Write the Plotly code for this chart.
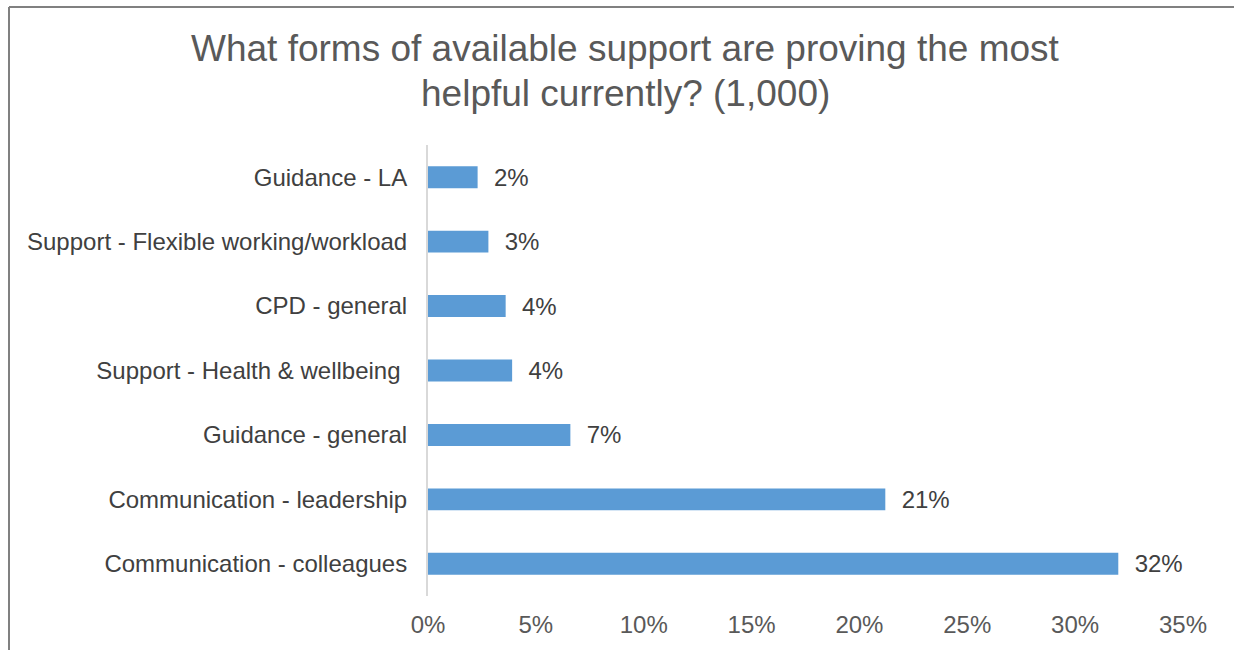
import plotly.graph_objects as go

# Survey responses, listed bottom-to-top as they appear on the y axis
categories = [
    "Communication - colleagues",
    "Communication - leadership",
    "Guidance - general",
    "Support - Health & wellbeing ",
    "CPD - general",
    "Support - Flexible working/workload",
    "Guidance - LA",
]
shares = [32.0, 21.2, 6.6, 3.9, 3.6, 2.8, 2.3]  # percent of respondents
tick_values = [0, 5, 10, 15, 20, 25, 30, 35]
tick_labels = ["0%", "5%", "10%", "15%", "20%", "25%", "30%", "35%"]

title_lines = [
    "What forms of available support are proving the most",
    "helpful currently? (1,000)",
]

FONT = "Liberation Sans, Arial, sans-serif"

# plot-area geometry in pixels
W, H = 1234, 650
L, R, T, B = 428, 51, 145, 51
PW, PH = W - L - R, H - T - B


def px_x(x):
    return (x - L) / PW


def px_y(y):
    return (H - B - y) / PH


fig = go.Figure(
    go.Bar(
        x=shares,
        y=categories,
        orientation="h",
        marker=dict(color="#5B9BD5", line=dict(width=0)),
        texttemplate="\u00a0\u00a0%{x:.0f}%",
        textposition="outside",
        constraintext="none",
        textfont=dict(family=FONT, size=24, color="#404040"),
        cliponaxis=False,
        hoverinfo="skip",
    )
)

annotations = [
    dict(text=line, xref="paper", yref="paper",
         x=px_x(625), y=px_y(cy), xanchor="center", yanchor="middle",
         showarrow=False, font=dict(family=FONT, size=37, color="#595959"))
    for line, cy in zip(title_lines, [48, 93])
]

fig.update_layout(
    width=W,
    height=H,
    margin=dict(l=L, r=R, t=T, b=B),
    paper_bgcolor="white",
    plot_bgcolor="white",
    bargap=0.66,
    showlegend=False,
    annotations=annotations,
    xaxis=dict(
        range=[0, 35],
        tickvals=tick_values,
        ticktext=tick_labels,
        showgrid=False,
        zeroline=False,
        showline=False,
        ticks="",
        ticklabelstandoff=12,
        tickfont=dict(family=FONT, size=24, color="#595959"),
    ),
    yaxis=dict(
        showgrid=False,
        zeroline=False,
        showline=True,
        linecolor="#D9D9D9",
        linewidth=2,
        ticks="",
        ticklabelstandoff=14,
        tickfont=dict(family=FONT, size=24, color="#404040"),
    ),
    shapes=[
        # frame edges around the chart area
        dict(type="line", xref="paper", yref="paper",
             x0=px_x(9), x1=px_x(1240), y0=px_y(6), y1=px_y(6),
             line=dict(color="#808080", width=2)),
        dict(type="line", xref="paper", yref="paper",
             x0=px_x(9), x1=px_x(9), y0=px_y(6), y1=px_y(660),
             line=dict(color="#808080", width=2)),
    ],
)

fig.write_html("out.html")
